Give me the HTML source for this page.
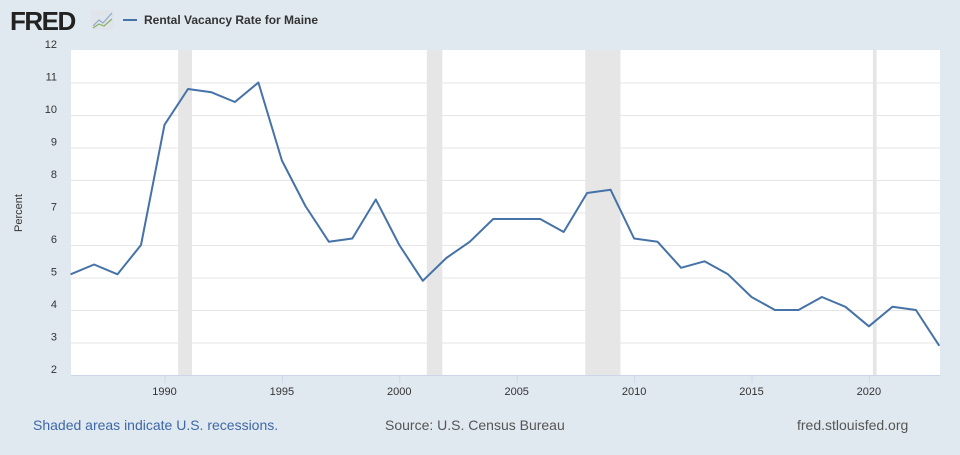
<!DOCTYPE html>
<html><head><style>
body{margin:0;width:960px;height:450px;background:#e1e9f0;font-family:"Liberation Sans",sans-serif;overflow:hidden}
</style></head><body>
<svg width="960" height="450" xmlns="http://www.w3.org/2000/svg" font-family="Liberation Sans, sans-serif">
<text x="10" y="30" font-size="26" font-weight="bold" fill="#222" letter-spacing="-1.5">FRED</text>
<rect x="91" y="10" width="23" height="20" fill="#dfe5ea" rx="2"/>
<polyline points="93,26 99,20 103,23 112,13" fill="none" stroke="#8fa8c8" stroke-width="1.2"/>
<polyline points="93,28 99,24 104,26 112,19" fill="none" stroke="#8ab060" stroke-width="1.2"/>
<line x1="123" y1="20" x2="137" y2="20" stroke="#4572a7" stroke-width="2"/>
<text x="144" y="24" font-size="12" font-weight="bold" fill="#333">Rental Vacancy Rate for Maine</text>
<rect x="71" y="50" width="869" height="325" fill="#fff"/>
<g id="g"></g>
<line x1="71" y1="375.5" x2="940" y2="375.5" stroke="#ccd6eb"/>
<g font-size="11" fill="#333" text-anchor="end" id="yl"></g>
<g font-size="11" fill="#333" text-anchor="middle" id="xl"></g>
<text x="22" y="213" font-size="11" fill="#333" text-anchor="middle" transform="rotate(-90 22 213)">Percent</text>
<polyline id="ln" fill="none" stroke="#4572a7" stroke-width="2" stroke-linejoin="round"/>
<text x="33" y="430" font-size="14" fill="#3d67a8">Shaded areas indicate U.S. recessions.</text>
<text x="385" y="430" font-size="14" fill="#555">Source: U.S. Census Bureau</text>
<text x="797" y="430" font-size="14" fill="#555">fred.stlouisfed.org</text>
</svg>
<script>
var NS="http://www.w3.org/2000/svg";
function X(y){return 164.5+(y-1990)*23.48}
function Y(v){return 375-(v-2)*32.5}
function el(p,t,a,txt){var e=document.createElementNS(NS,t);for(var k in a)e.setAttribute(k,a[k]);if(txt)e.textContent=txt;document.getElementById(p).appendChild(e);}
[[1990.58,1991.17],[2001.17,2001.83],[2007.92,2009.42],[2020.17,2020.33]].forEach(function(r){el("g","rect",{x:X(r[0]),y:50,width:X(r[1])-X(r[0]),height:325,fill:"#e6e6e6"})});
for(var v=3;v<=11;v++)el("g","line",{x1:71,x2:940,y1:Y(v)+.5,y2:Y(v)+.5,stroke:"#e6e6e6"});
for(var v=2;v<=12;v++)el("yl","text",{x:57,y:Y(v)-2},""+v);
for(var y=1990;y<=2020;y+=5){el("xl","text",{x:X(y),y:395},""+y);el("g","line",{x1:X(y)+.5,x2:X(y)+.5,y1:375,y2:383,stroke:"#ccd6eb"});}
var d=[5.1,5.4,5.1,6.0,9.7,10.8,10.7,10.4,11.0,8.6,7.2,6.1,6.2,7.4,6.0,4.9,5.6,6.1,6.8,6.8,6.8,6.4,7.6,7.7,6.2,6.1,5.3,5.5,5.1,4.4,4.0,4.0,4.4,4.1,3.5,4.1,4.0,2.9];
document.getElementById("ln").setAttribute("points",d.map(function(v,i){return X(1986+i).toFixed(1)+","+Y(v).toFixed(1)}).join(" "));
</script>
</body></html>
